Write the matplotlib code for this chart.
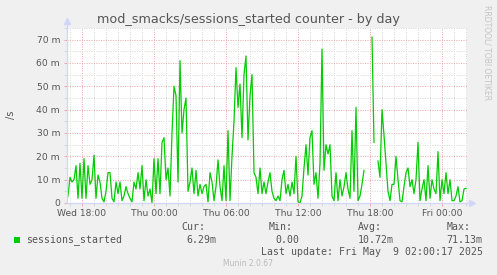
import numpy as np
import matplotlib
matplotlib.use("Agg")
import matplotlib.pyplot as plt
from matplotlib.patches import Rectangle
from matplotlib.ticker import MultipleLocator, FixedLocator

nan = np.nan

# sessions started per second (milli), 10 minute steps from Wed 16:40 to Fri 02:00
sessions = [0.5, 3,
            11, 9, 10, 16, 2, 17,          # Wed 17:00
            2, 19, 2, 16, 8, 10,           # Wed 18:00
            20.5, 2, 12, 9, 2, 0.5,        # 19:00
            5, 13, 13, 2, 0.5, 9,          # 20:00
            4, 9, 1, 3, 7, 4,              # 21:00
            2, 0.5, 9, 6, 13, 6,           # 22:00
            16, 1, 10, 3, 6, 0,            # 23:00
            19, 4, 19, 4, 26, 28,          # Thu 00:00
            10, 15, 3, 30, 50, 46,         # 01:00
            9, 61, 30, 40, 45, 5,          # 02:00
            9, 15, 4, 14, 3, 8,            # 03:00
            4, 7, 8, 0.5, 13, 9,           # 04:00
            1, 7, 18.5, 7, 1, 16,          # 05:00
            1, 31, 1, 20, 35, 58,          # 06:00
            41, 51, 28, 55, 63, 27,        # 07:00
            46, 55, 13, 11, 4, 15,         # 08:00
            4, 9, 4, 9, 13, 5,             # 09:00
            2, 1, 3, 1, 10, 14,            # 10:00
            4, 8, 3, 9, 4, 20,             # 11:00
            0.5, 0, 3, 15, 25, 12,         # 12:00
            28, 31, 8, 13, 2, 17,          # 13:00
            66, 14, 25, 21, 25, 3,         # 14:00
            1, 13, 1, 10, 3, 7,            # 15:00
            13, 6, 2, 31, 5, 41,           # 16:00
            1, 3, 8, 14, nan, nan,         # 17:00
            nan, 71.13, 26, nan, 18, 11,   # 18:00
            40, 29, 17, 5, 1, 8,           # 19:00
            8, 20, 10, 1, 0.5, 7,          # 20:00
            13, 15, 7, 10, 4, 10,          # 21:00
            26, 1, 6, 10, 1, 16,           # 22:00
            2, 10, 6, 4, 22, 1,            # 23:00
            10, 4, 13, 4, 10, 1,           # Fri 00:00
            1, 3, 7, 0.5, 1, 6,            # 01:00
            6.29]                          # 02:00
start_hour = 16 + 40 / 60.0   # hours since Wed 00:00
step_hour = 10 / 60.0

xtick_hours = [18, 24, 30, 36, 42, 48]
xtick_labels = ["Wed 18:00", "Thu 00:00", "Thu 06:00", "Thu 12:00", "Thu 18:00", "Fri 00:00"]
ytick_values = [0, 10, 20, 30, 40, 50, 60, 70]
ytick_labels = ["0", "10 m", "20 m", "30 m", "40 m", "50 m", "60 m", "70 m"]

legend_name = "sessions_started"
stat_names = ["Cur:", "Min:", "Avg:", "Max:"]
stat_values = ["6.29m", "0.00", "10.72m", "71.13m"]
last_update = "Last update: Fri May  9 02:00:17 2025"

W, H = 497, 275
fig = plt.figure(figsize=(W / 100, H / 100), dpi=100, facecolor="#F0F0F0")
ax = fig.add_axes([67 / W, (H - 203) / H, 400 / W, 175 / H], facecolor="white")

times = start_hour + step_hour * np.arange(len(sessions))
ax.plot(times, sessions, color="#00CC00", lw=0.9, zorder=3)

ax.set_xlim(16.75, 16.75 + 400 / 12.0)
ax.set_ylim(0, 75)

ax.xaxis.set_major_locator(FixedLocator(xtick_hours))
ax.xaxis.set_minor_locator(MultipleLocator(1))
ax.set_xticklabels(xtick_labels)
ax.yaxis.set_major_locator(FixedLocator(ytick_values))
ax.yaxis.set_minor_locator(MultipleLocator(5))
ax.set_yticklabels(ytick_labels)

grid_minor = "#D8D8D8"
grid_major = "#EFAAAA"
ax.grid(which="minor", color=grid_minor, lw=0.72, linestyle=(0, (1, 1.4)))
ax.grid(which="major", color=grid_major, lw=0.72, linestyle=(0, (1, 1.4)))
ax.set_axisbelow(True)

ax.tick_params(which="major", length=2, width=0.72, color=grid_major, labelsize=6.6,
               labelcolor="#555555", pad=3)
ax.tick_params(which="minor", length=2, width=0.72, color=grid_minor)
ax.tick_params(axis="x", pad=2)

for s in ["top", "right"]:
    ax.spines[s].set_visible(False)
axis_col = "#CFD6F8"
for s in ["left", "bottom"]:
    ax.spines[s].set_color(axis_col)
    ax.spines[s].set_linewidth(0.9)
    ax.spines[s].set_zorder(4)
# axis arrows
ax.plot([0, 0], [1, 1.04], transform=ax.transAxes, color=axis_col, lw=0.9, clip_on=False)
ax.plot([1, 1.0125], [0, 0], transform=ax.transAxes, color=axis_col, lw=0.9, clip_on=False)
ax.plot([0], [1.04], marker="^", ms=5, color=axis_col, transform=ax.transAxes, clip_on=False)
ax.plot([1.0125], [0], marker=">", ms=5, color=axis_col, transform=ax.transAxes, clip_on=False)

fig.text(248.5 / W, 1 - 19 / H, "mod_smacks/sessions_started counter - by day",
         ha="center", va="center", fontsize=9.2, color="#555555")
fig.text(11 / W, 1 - 115 / H, "/s", rotation=90, ha="center", va="center",
         fontsize=7, color="#555555")
fig.text(487 / W, 1 - 53 / H, "RRDTOOL/ TOBI OETIKER", rotation=270, ha="center",
         va="center", fontsize=5.5, color="#C4C4C4")

mono = "DejaVu Sans Mono"
fig.patches.append(Rectangle((14 / W, 1 - 243 / H), 6 / W, 6 / H, transform=fig.transFigure,
                             facecolor="#00CC00", edgecolor="none"))
fig.text(26.5 / W, 1 - 240 / H, legend_name, family=mono, fontsize=7.1, color="#555555",
         ha="left", va="center")
name_x = [181.7, 269, 357.7, 446.7]
val_right = [216.7, 299, 394, 482.7]
for nx, vr, n, v in zip(name_x, val_right, stat_names, stat_values):
    fig.text(nx / W, 1 - 227.5 / H, n, family=mono, fontsize=7.1, color="#555555",
             ha="left", va="center")
    fig.text(vr / W, 1 - 240 / H, v, family=mono, fontsize=7.1, color="#555555",
             ha="right", va="center")
fig.text(482.7 / W, 1 - 252 / H, last_update, family=mono, fontsize=7.1, color="#555555",
         ha="right", va="center")
fig.text(248 / W, 1 - 263.5 / H, "Munin 2.0.67", fontsize=5.5, color="#BBBBBB",
         ha="center", va="center")

fig.savefig("out.png", dpi=100, facecolor=fig.get_facecolor())
